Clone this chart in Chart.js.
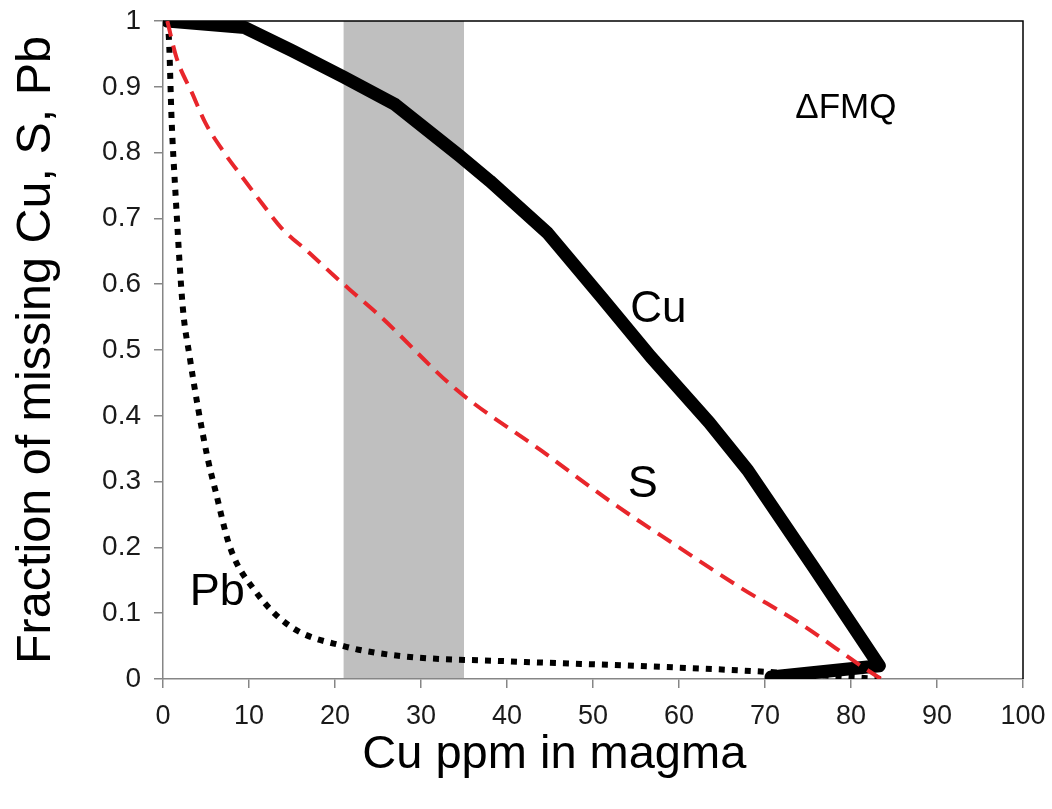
<!DOCTYPE html>
<html><head><meta charset="utf-8">
<script src="https://cdn.jsdelivr.net/npm/chart.js@4"></script>
<style>html,body{margin:0;padding:0;background:#fff}#wrap{width:1052px;height:809px;position:relative}</style>
</head><body><div id="wrap"><canvas id="c" width="1052" height="809"></canvas></div>
<script>
// ---- data ----
const cuX = [0.5, 9.5, 15, 21, 27, 34.5, 38, 44.7, 51, 56.7, 63.5, 68, 75.7, 83.3, 70.7];
const cuY = [1.0, 0.99, 0.955, 0.915, 0.873, 0.795, 0.757, 0.678, 0.58, 0.49, 0.39, 0.317, 0.169, 0.02, 0.003];

const sX = [0.5, 1.6, 3.4, 4.9, 6.9, 9.2, 11.5, 13.8, 16.9, 19.8, 22.4, 25.2, 34, 44, 52, 60, 67, 74, 81.5, 83.5];
const sY = [1, 0.943, 0.89, 0.846, 0.804, 0.763, 0.723, 0.685, 0.649, 0.614, 0.584, 0.552, 0.441, 0.347, 0.27, 0.2, 0.14, 0.085, 0.017, 0];

const pbX = [0.5, 0.7, 1.0, 1.4, 2.3, 3.1, 4.1, 5.2, 6.1, 7.8, 10.7, 14.8, 21, 27.6, 40, 55, 68.7, 83.5];
const pbY = [1, 0.97, 0.85, 0.75, 0.565, 0.49, 0.41, 0.335, 0.286, 0.2, 0.134, 0.08, 0.05, 0.035, 0.027, 0.02, 0.012, 0.0];

const bandRange = [21, 35];
const xTickLabels = ['0','10','20','30','40','50','60','70','80','90','100'];
const yTickLabels = ['0','0.1','0.2','0.3','0.4','0.5','0.6','0.7','0.8','0.9','1'];
const xTitle = 'Cu ppm in magma';
const yTitle = 'Fraction of missing Cu, S, Pb';
const curveLabels = [
  {text:'Cu', x:57.6, y:0.561, size:44},
  {text:'S', x:55.8, y:0.295, size:45},
  {text:'Pb', x:6.3, y:0.131, size:45},
  {text:'\u0394FMQ', x:79.4, y:0.868, size:35}
];

const pts = (xs, ys) => xs.map((v, i) => ({x: v, y: ys[i]}));
const FONT = "'Liberation Sans', Arial, sans-serif";
Chart.defaults.font.family = FONT;
Chart.defaults.color = '#1a1a1a';

const decor = {
  id: 'decor',
  beforeDatasetsDraw(chart) {
    const {ctx, chartArea: a, scales: {x}} = chart;
    const x0 = x.getPixelForValue(bandRange[0]), x1 = x.getPixelForValue(bandRange[1]);
    ctx.save();
    ctx.fillStyle = '#bfbfbf';
    ctx.fillRect(x0, a.top, x1 - x0, a.bottom - a.top - 1);
    ctx.strokeStyle = '#000';
    ctx.lineWidth = 1.5;
    ctx.beginPath();
    ctx.moveTo(a.left, a.top); ctx.lineTo(a.right, a.top); ctx.lineTo(a.right, a.bottom);
    ctx.stroke();
    ctx.restore();
  },
  afterDatasetsDraw(chart) {
    const {ctx, scales: {x, y}} = chart;
    ctx.save();
    ctx.fillStyle = '#000';
    ctx.textAlign = 'center';
    ctx.textBaseline = 'middle';
    curveLabels.forEach(l => {
      ctx.font = l.size + 'px ' + FONT;
      ctx.fillText(l.text, x.getPixelForValue(l.x), y.getPixelForValue(l.y));
    });
    // x-axis title, set slightly left of centre as in the reference
    ctx.font = '47px ' + FONT;
    ctx.textBaseline = 'alphabetic';
    ctx.fillText(xTitle, x.getPixelForValue(45.5), x.bottom - 41);
    ctx.restore();
  }
};

new Chart(document.getElementById('c'), {
  type: 'scatter',
  data: {
    datasets: [
      {label:'Cu', data: pts(cuX, cuY), showLine: true, borderColor:'#000', borderWidth: 13,
       pointRadius: 0, borderJoinStyle:'round', borderCapStyle:'round', tension: 0, order: 3},
      {label:'Pb', data: pts(pbX, pbY), showLine: true, borderColor:'#000', borderWidth: 6,
       borderDash:[6,7], pointRadius: 0, cubicInterpolationMode:'monotone', order: 2},
      {label:'S', data: pts(sX, sY), showLine: true, borderColor:'#e8262b', borderWidth: 4,
       borderDash:[16,9], pointRadius: 0, cubicInterpolationMode:'monotone', order: 1}
    ]
  },
  options: {
    responsive: false, animation: false, devicePixelRatio: 1,
    layout: {padding: {top: 21, right: 29, left: 0, bottom: 0}},
    plugins: {legend: {display: false}, tooltip: {enabled: false}},
    scales: {
      x: {
        type: 'linear', min: 0, max: 100,
        ticks: {stepSize: 10, callback: (v, i) => xTickLabels[i], font: {size: 27}, padding: 12, maxRotation: 0},
        grid: {drawOnChartArea: false, drawTicks: true, tickLength: 9, color: '#868686', lineWidth: 1.5},
        border: {color: '#868686', width: 1.5},
        title: {display: false},
        afterFit: s => { s.height = 130; s.paddingLeft = 0; s.paddingRight = 0; }
      },
      y: {
        type: 'linear', min: 0, max: 1,
        ticks: {stepSize: 0.1, callback: (v, i) => yTickLabels[i], font: {size: 28}, padding: 13},
        grid: {drawOnChartArea: false, drawTicks: true, tickLength: 9, color: '#868686', lineWidth: 1.5},
        border: {color: '#868686', width: 1.5},
        title: {display: true, text: yTitle, font: {size: 48.5}, color: '#000', padding: {top: 8, bottom: 0}},
        afterFit: s => { s.width = 163; s.paddingTop = 0; s.paddingBottom = 0; }
      }
    }
  },
  plugins: [decor]
});
</script></body></html>
